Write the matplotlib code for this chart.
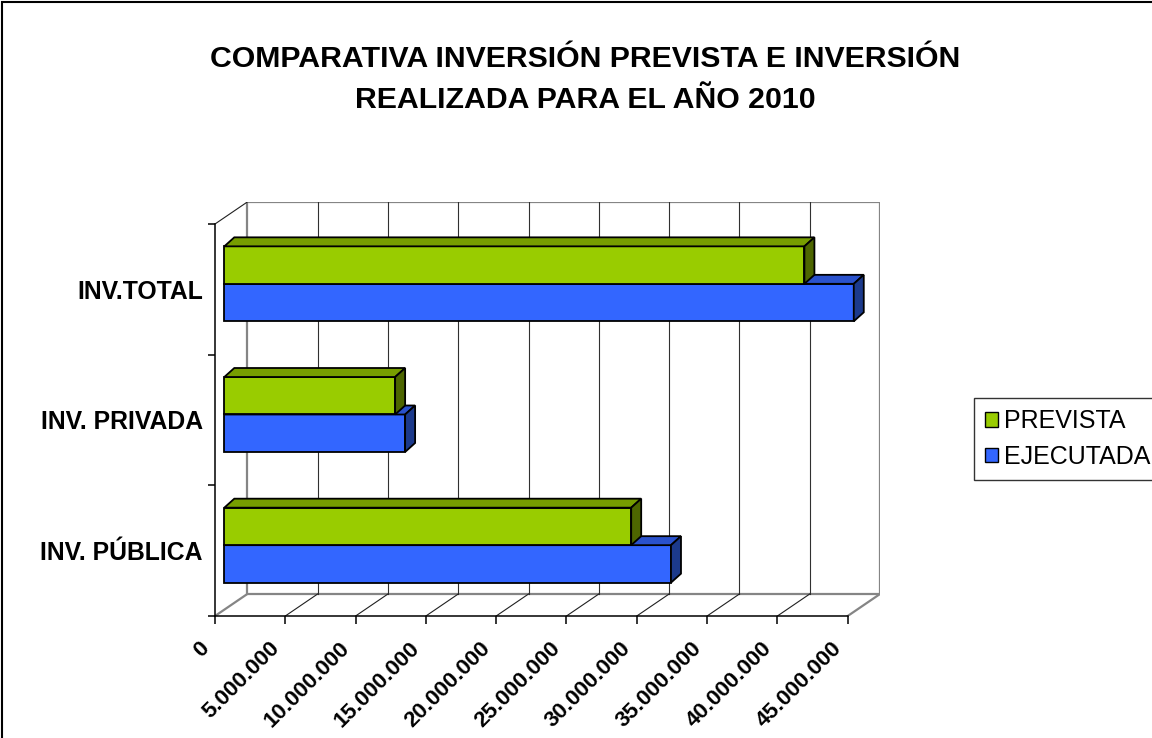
import numpy as np
import matplotlib.pyplot as plt
from matplotlib.patches import Polygon, Patch, Rectangle

# datos
categorias = ['INV. PÚBLICA', 'INV. PRIVADA', 'INV.TOTAL']
prevista = [28_940_000, 12_150_000, 41_260_000]
ejecutada = [31_770_000, 12_860_000, 44_770_000]
series = ['PREVISTA', 'EJECUTADA']
ticks = [0, 5_000_000, 10_000_000, 15_000_000, 20_000_000,
         25_000_000, 30_000_000, 35_000_000, 40_000_000, 45_000_000]
tick_labels = ['0', '5.000.000', '10.000.000', '15.000.000', '20.000.000',
               '25.000.000', '30.000.000', '35.000.000', '40.000.000', '45.000.000']
titulo = ['COMPARATIVA INVERSIÓN PREVISTA E INVERSIÓN',
          'REALIZADA PARA EL AÑO 2010']

# colores: frente, techo, lateral
verde = ('#99CC00', '#779E00', '#4D6600')
azul = ('#3366FF', '#2A52CC', '#1C3A8C')

plt.rcParams['font.family'] = ['Liberation Sans', 'DejaVu Sans']

W, H = 1152, 738
fig = plt.figure(figsize=(W / 100, H / 100), dpi=100)

xmax = ticks[-1]
px_x = 665 / (xmax + 2.30e6)        # pixels per unit of value
wall_dx, wall_dy = 32.3 / px_x, 22 / 130.7   # depth of the 3d box
bar_x0, bar_y0 = 9.3 / px_x, 5.5 / 130.7     # bar front face offset
bar_dx, bar_dy = 10 / px_x, 9 / 130.7        # bar depth
bar_h = 37.5 / 130.7

ax = fig.add_axes([215 / W, (H - 616) / H, 665 / W, 414 / H])
ax.set_xlim(0, xmax + wall_dx)
ax.set_ylim(0, len(categorias) + wall_dy)
ax.patch.set_visible(False)
for s in ['top', 'right']:
    ax.spines[s].set_visible(False)
ax.spines['bottom'].set_bounds(0, xmax)
ax.spines['left'].set_bounds(0, len(categorias))
ax.spines['bottom'].set_linewidth(1.1)
ax.spines['left'].set_linewidth(1.1)
ax.set_xticks(ticks, labels=[])
ax.set_yticks(range(len(categorias) + 1), labels=[])
ax.tick_params(axis='x', length=5.8, width=1.1, direction='out')
ax.tick_params(axis='y', length=5.2, width=1.1, direction='out')

top = len(categorias)
gris = '#858585'
# pared del fondo
ax.add_patch(Rectangle((wall_dx, wall_dy), xmax, top, fill=False,
                       ec=gris, lw=1.6, zorder=1))
for t in ticks[1:-1]:
    ax.plot([t + wall_dx] * 2, [wall_dy, top + wall_dy], color='#303030', lw=0.8, zorder=1)
# suelo
for t in ticks:
    c = gris if t in (0, xmax) else '#202020'
    w = 1.6 if t in (0, xmax) else 0.8
    ax.plot([t, t + wall_dx], [0, wall_dy], color=c, lw=w, zorder=1)
ax.plot([0, wall_dx], [top, top + wall_dy], color='#202020', lw=0.8, zorder=1)


def barra(v, y0, cols):
    x0 = bar_x0
    front = [(x0, y0), (x0 + v, y0), (x0 + v, y0 + bar_h), (x0, y0 + bar_h)]
    techo = [(x0, y0 + bar_h), (x0 + v, y0 + bar_h),
             (x0 + v + bar_dx, y0 + bar_h + bar_dy), (x0 + bar_dx, y0 + bar_h + bar_dy)]
    lado = [(x0 + v, y0), (x0 + v, y0 + bar_h),
            (x0 + v + bar_dx, y0 + bar_h + bar_dy), (x0 + v + bar_dx, y0 + bar_dy)]
    for pts, col in zip([front, techo, lado], cols):
        ax.add_patch(Polygon(pts, closed=True, fc=col, ec='black', lw=1.3,
                             joinstyle='miter', zorder=3))


for i in range(len(categorias)):
    yc = i + 0.5 + bar_y0
    barra(ejecutada[i], yc - bar_h, azul)
    barra(prevista[i], yc, verde)

# etiquetas del eje de valores
for t, lab in zip(ticks, tick_labels):
    ax.annotate(lab, (t, 0), xytext=(-9, -29), textcoords='offset pixels',
                rotation=45, rotation_mode='anchor', ha='right', va='center',
                fontsize=16, fontweight='bold', annotation_clip=False)

# etiquetas de categorias
for i, cat in enumerate(categorias):
    ax.annotate(cat, (0, i + 0.5), xytext=(-12, 0), textcoords='offset pixels',
                ha='right', va='center_baseline', fontsize=17.8, fontweight='bold',
                annotation_clip=False)

fig.text(585.5 / W, 1 - 67 / H, titulo[0], ha='center', va='baseline',
         fontsize=21.8, fontweight='bold')
fig.text(585.5 / W, 1 - 108 / H, titulo[1], ha='center', va='baseline',
         fontsize=21.8, fontweight='bold')

handles = [Patch(fc=verde[0], ec='black', lw=1), Patch(fc=azul[0], ec='black', lw=1)]
leg = fig.legend(handles, series, loc='upper left',
                 bbox_to_anchor=(974 / W, 1 - 398 / H), fontsize=18,
                 frameon=True, fancybox=False, edgecolor='black',
                 handlelength=0.5, handleheight=0.5, handletextpad=0.25,
                 borderpad=0.45, labelspacing=0.45, borderaxespad=0)
leg.get_frame().set_linewidth(1.0)

fig.add_artist(Rectangle((2 / W, -0.05), 1.1, 1 - 2 / H + 0.05,
                         transform=fig.transFigure, fill=False, ec='black', lw=1.5))

fig.savefig('out.png', dpi=100)
